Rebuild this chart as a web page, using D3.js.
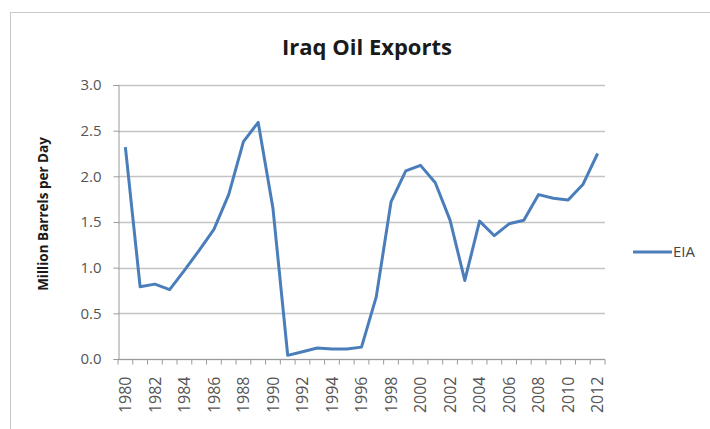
<!DOCTYPE html>
<html>
<head>
<meta charset="utf-8">
<script src="https://cdn.jsdelivr.net/npm/d3@7"></script>
<style>
  body { margin: 0; background: #fff; }
  svg { display: block; }
</style>
</head>
<body>
<div id="chart"></div>
<script>
// data
var years = d3.range(1980, 2013);
var eia = [2.32, 0.79, 0.82, 0.76, 0.97, 1.19, 1.42, 1.80, 2.38, 2.59,
           1.65, 0.04, 0.08, 0.12, 0.11, 0.11, 0.13, 0.68, 1.72, 2.06,
           2.12, 1.93, 1.52, 0.86, 1.51, 1.35, 1.48, 1.52, 1.80, 1.76,
           1.74, 1.91, 2.25];
var yTicks = [0, 0.5, 1.0, 1.5, 2.0, 2.5, 3.0];

const width = 710;
const height = 429;
const plot = {left: 118, right: 605, top: 85, bottom: 359};
const lineColor = "#4a7ebb";
const font = "Open Sans, sans-serif";

const svg = d3.select("#chart")
  .append("svg")
    .attr("width", width)
    .attr("height", height)
    .attr("font-family", font);

// chart frame
svg.append("rect")
  .attr("x", 10.5).attr("y", 12.5)
  .attr("width", 720).attr("height", 440)
  .attr("fill", "#fff")
  .attr("stroke", "#c8c8c8");

// category scale, points sit in the middle of each band
const x = d3.scaleBand()
  .domain(years)
  .range([plot.left, plot.right]);

const y = d3.scaleLinear()
  .domain([0, 3])
  .range([plot.bottom, plot.top]);

// gridlines
svg.append("g")
  .selectAll("line")
  .data(yTicks)
  .join("line")
    .attr("x1", plot.left)
    .attr("x2", plot.right)
    .attr("y1", d => Math.round(y(d)) + 0.5)
    .attr("y2", d => Math.round(y(d)) + 0.5)
    .attr("stroke", "#c4c4c4")
    .attr("stroke-width", 1.3);

// y axis
const yAxis = svg.append("g")
  .attr("transform", `translate(${plot.left + 0.5},0)`)
  .call(d3.axisLeft(y).tickValues(yTicks).tickFormat(d3.format(".1f")).tickSize(5).tickPadding(12));
yAxis.select(".domain").attr("stroke", "#9a9a9a");
yAxis.selectAll(".tick line").attr("stroke", "#9a9a9a");
yAxis.selectAll(".tick text")
  .attr("font-size", 15)
  .attr("font-family", font)
  .attr("fill", "#555");

// x axis, ticks between categories
const xAxis = svg.append("g")
  .attr("transform", `translate(0,${plot.bottom + 0.5})`);
xAxis.append("line")
  .attr("x1", plot.left).attr("x2", plot.right)
  .attr("stroke", "#9a9a9a");
xAxis.selectAll("line.tk")
  .data(years.concat([2013]))
  .join("line")
    .attr("class", "tk")
    .attr("x1", d => d == 2013 ? plot.right : x(d))
    .attr("x2", d => d == 2013 ? plot.right : x(d))
    .attr("y1", 0).attr("y2", 5)
    .attr("stroke", "#9a9a9a");
xAxis.selectAll("text")
  .data(years.filter(d => d % 2 == 0))
  .join("text")
    .attr("transform", d => `translate(${x(d) + x.bandwidth() / 2},17) rotate(-90)`)
    .attr("dy", "0.35em")
    .attr("text-anchor", "end")
    .attr("font-size", 16)
    .attr("fill", "#555")
    .text(d => d);

// the line
const line = d3.line()
  .x((d, i) => x(years[i]) + x.bandwidth() / 2)
  .y(d => y(d));

svg.append("path")
  .datum(eia)
  .attr("d", line)
  .attr("fill", "none")
  .attr("stroke", lineColor)
  .attr("stroke-width", 3)
  .attr("stroke-linejoin", "round");

// title
svg.append("text")
  .attr("x", 367)
  .attr("y", 55)
  .attr("text-anchor", "middle")
  .attr("font-size", 22)
  .attr("font-weight", "bold")
  .attr("fill", "#1a1a1a")
  .text("Iraq Oil Exports");

// y axis title
svg.append("text")
  .attr("transform", "translate(43,214) rotate(-90)")
  .attr("dy", "0.35em")
  .attr("text-anchor", "middle")
  .attr("font-size", 13.5)
  .attr("font-weight", "bold")
  .attr("fill", "#1a1a1a")
  .text("Million Barrels per Day");

// legend
const legend = svg.append("g").attr("transform", "translate(633,252)");
legend.append("line")
  .attr("x1", 0).attr("x2", 39)
  .attr("stroke", lineColor)
  .attr("stroke-width", 3);
legend.append("text")
  .attr("x", 40).attr("dy", "0.35em")
  .attr("font-size", 15)
  .attr("fill", "#444")
  .text("EIA");
</script>
</body>
</html>
